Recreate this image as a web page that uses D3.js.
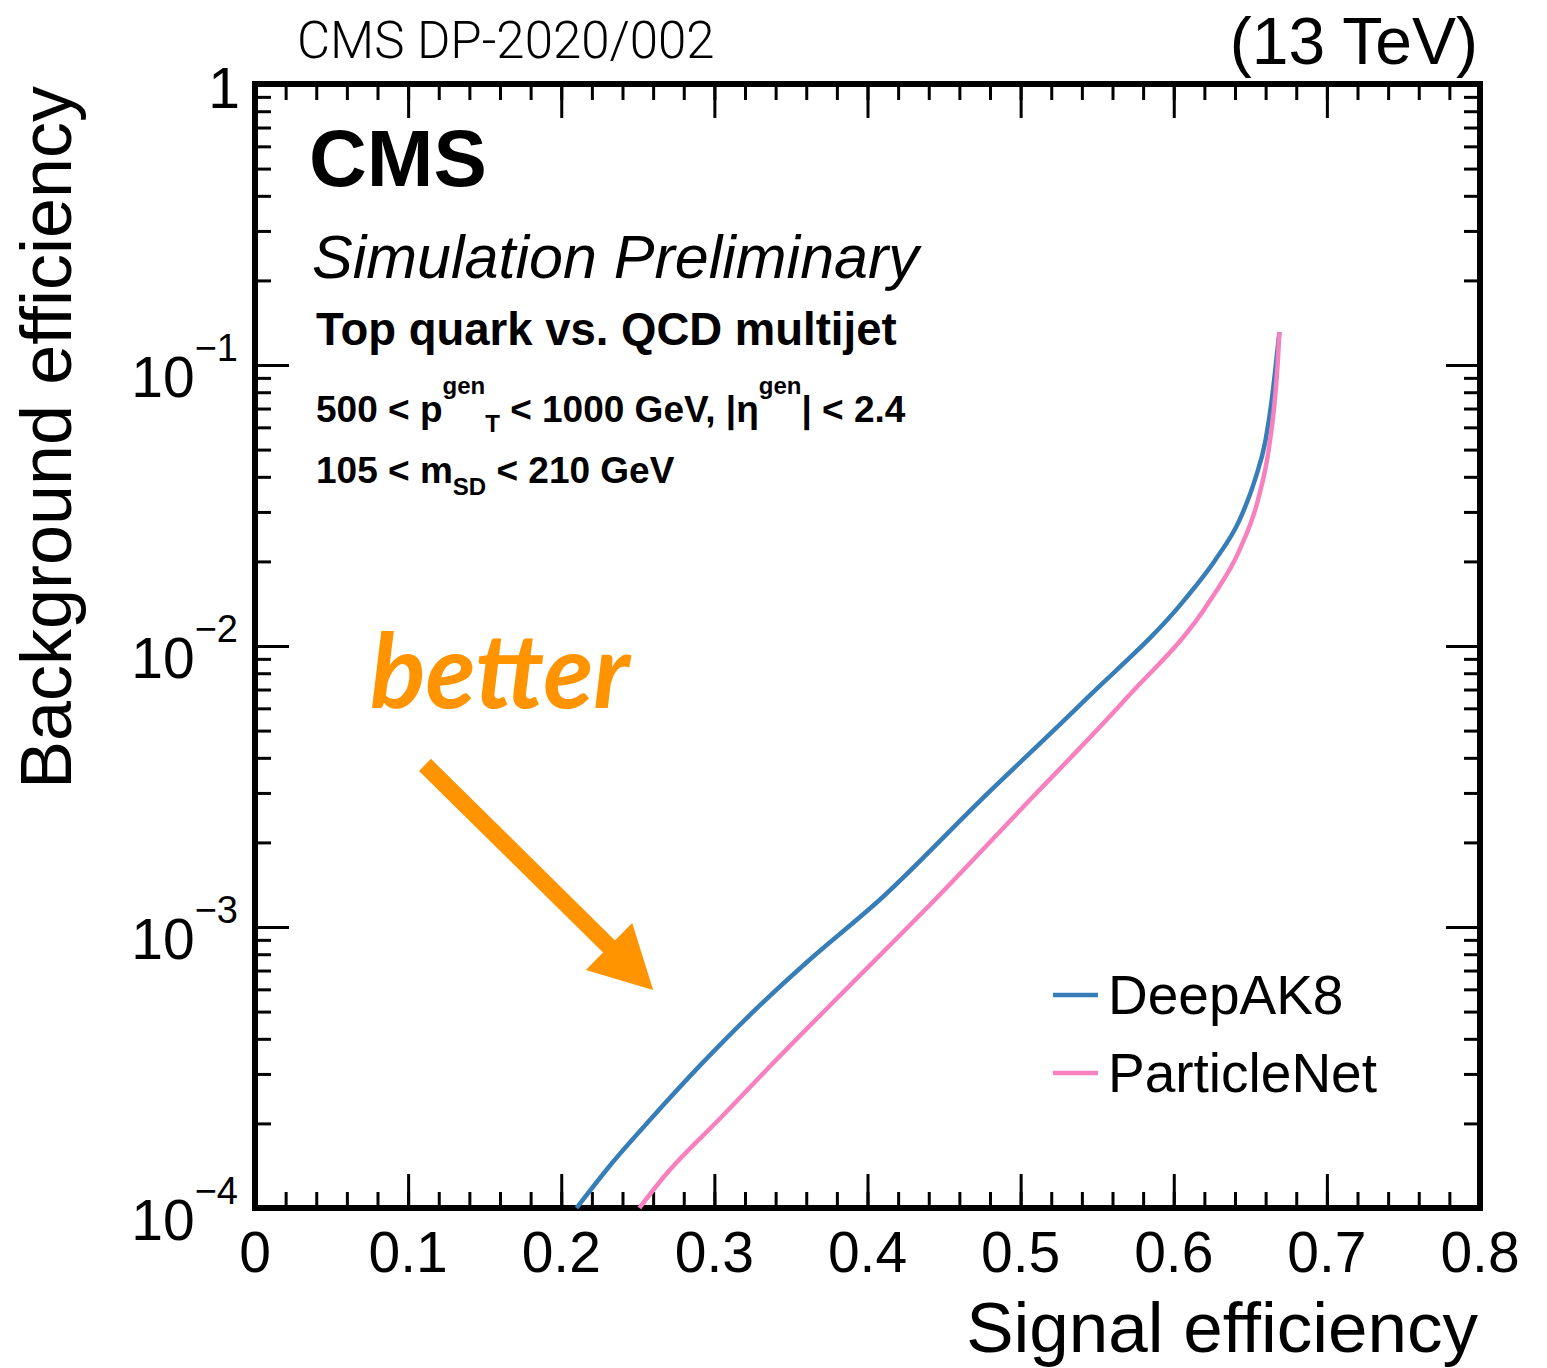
<!DOCTYPE html>
<html>
<head>
<meta charset="utf-8">
<script src="https://cdn.jsdelivr.net/npm/d3@7"></script>
<style>
  html, body { margin: 0; padding: 0; background: #fff; }
  svg { display: block; }
</style>
</head>
<body>
<svg id="chart" width="1547" height="1368"></svg>
<script>
// ROC curves: signal efficiency vs background efficiency
const seriesNames = ["DeepAK8", "ParticleNet"];
const seriesColors = ["#377eb8", "#f781bf"];

const sigEffDeepAK8 = [0.210, 0.232, 0.258, 0.291, 0.330, 0.362, 0.408, 0.474, 0.542, 0.607,
  0.627, 0.643, 0.653, 0.660, 0.664, 0.667, 0.669];
const bkgEffDeepAK8 = [1.00e-4, 1.42e-4, 2.06e-4, 3.23e-4, 5.28e-4, 7.63e-4, 1.25e-3, 2.83e-3, 6.42e-3, 1.46e-2,
  2.02e-2, 2.81e-2, 3.90e-2, 5.41e-2, 7.50e-2, 0.104, 0.131];

const sigEffParticleNet = [0.251, 0.268, 0.304, 0.336, 0.379, 0.444, 0.506, 0.568, 0.624, 0.643,
  0.655, 0.662, 0.666, 0.668, 0.669];
const bkgEffParticleNet = [1.00e-4, 1.31e-4, 2.09e-4, 3.18e-4, 5.50e-4, 1.25e-3, 2.83e-3, 6.42e-3, 1.46e-2, 2.20e-2,
  3.31e-2, 4.99e-2, 7.50e-2, 0.104, 0.131];

// axis ticks and labels
const xMajorTicks = [0, 0.1, 0.2, 0.3, 0.4, 0.5, 0.6, 0.7, 0.8];
const xTickLabels = ["0", "0.1", "0.2", "0.3", "0.4", "0.5", "0.6", "0.7", "0.8"];
const yMajorTicks = [1, 1e-1, 1e-2, 1e-3, 1e-4];
const yTickBases = ["1", "10", "10", "10", "10"];
const yTickExponents = ["", "\u22121", "\u22122", "\u22123", "\u22124"];

const svg = d3.select("#chart");
const FONT = "'Liberation Sans', Arial, Helvetica, sans-serif";

const plot = { left: 255, right: 1480, top: 84, bottom: 1208 };
const x = d3.scaleLinear().domain([0, 0.8]).range([plot.left, plot.right]);
const y = d3.scaleLog().domain([1e-4, 1]).range([plot.bottom, plot.top]);

// minor ticks
const xMinorTicks = d3.range(0, 41).map(i => i * 0.02);
const yMinorTicks = [];
[-4, -3, -2, -1].forEach(d => { for (let k = 2; k <= 9; k++) yMinorTicks.push(k * Math.pow(10, d)); });

const MAJ = 34, MIN = 16;
function styleAxis(g) {
  g.select(".domain").remove();
  g.selectAll(".tick line").attr("stroke", "#000").attr("stroke-width", 3);
}
const axes = svg.append("g");
[[d3.axisBottom, plot.bottom], [d3.axisTop, plot.top]].forEach(([gen, pos]) => {
  axes.append("g").attr("transform", `translate(0,${pos})`)
    .call(gen(x).tickValues(xMinorTicks).tickSize(-MIN).tickFormat("")).call(styleAxis);
  axes.append("g").attr("transform", `translate(0,${pos})`)
    .call(gen(x).tickValues(xMajorTicks).tickSize(-MAJ).tickFormat("")).call(styleAxis);
});
[[d3.axisLeft, plot.left], [d3.axisRight, plot.right]].forEach(([gen, pos]) => {
  axes.append("g").attr("transform", `translate(${pos},0)`)
    .call(gen(y).tickValues(yMinorTicks).tickSize(-MIN).tickFormat("")).call(styleAxis);
  axes.append("g").attr("transform", `translate(${pos},0)`)
    .call(gen(y).tickValues(yMajorTicks).tickSize(-MAJ).tickFormat("")).call(styleAxis);
});

// frame
svg.append("rect")
  .attr("x", plot.left).attr("y", plot.top)
  .attr("width", plot.right - plot.left).attr("height", plot.bottom - plot.top)
  .attr("fill", "none").attr("stroke", "#000").attr("stroke-width", 6);

// x tick labels
svg.append("g").selectAll("text").data(xMajorTicks).join("text")
  .attr("x", d => x(d)).attr("y", 1272)
  .attr("text-anchor", "middle")
  .attr("font-family", FONT).attr("font-size", 57)
  .text((d, i) => xTickLabels[i]);

// y tick labels (powers of ten)
const yLab = svg.append("g").selectAll("text").data(yMajorTicks).join("text")
  .attr("x", (d, i) => i === 0 ? 240 : 238)
  .attr("y", (d, i) => i === 0 ? y(d) + 24 : y(d) + 32)
  .attr("text-anchor", "end")
  .attr("font-family", FONT).attr("font-size", 57);
yLab.append("tspan").text((d, i) => yTickBases[i]);
yLab.append("tspan").attr("font-size", 38).attr("dy", -36)
  .text((d, i) => yTickExponents[i]);

// axis titles
svg.append("text")
  .attr("x", 1478).attr("y", 1352).attr("text-anchor", "end")
  .attr("font-family", FONT).attr("font-size", 71)
  .text("Signal efficiency");
svg.append("text")
  .attr("transform", "translate(71,86) rotate(-90)").attr("text-anchor", "end")
  .attr("font-family", FONT).attr("font-size", 72)
  .text("Background efficiency");

// header
svg.append("text")
  .attr("x", 297).attr("y", 58)
  .attr("font-family", "Roboto, 'Liberation Sans', sans-serif").attr("font-weight", 300)
  .attr("font-size", 51)
  .text("CMS DP-2020/002");
svg.append("text")
  .attr("x", 1478).attr("y", 64).attr("text-anchor", "end")
  .attr("font-family", FONT).attr("font-size", 66)
  .text("(13 TeV)");

// in-frame labels
svg.append("text").attr("x", 309).attr("y", 186)
  .attr("font-family", FONT).attr("font-weight", "bold").attr("font-size", 80).text("CMS");
svg.append("text").attr("x", 312).attr("y", 278)
  .attr("font-family", FONT).attr("font-style", "italic").attr("font-size", 61)
  .text("Simulation Preliminary");
svg.append("text").attr("x", 316).attr("y", 345)
  .attr("font-family", FONT).attr("font-weight", "bold").attr("font-size", 45.5)
  .text("Top quark vs. QCD multijet");

// text with stacked super/subscripts, laid out piece by piece
function richLine(x0, y0, parts) {
  const g = svg.append("g").attr("font-family", FONT).attr("font-weight", "bold");
  let cx = x0, anchorX = x0;
  parts.forEach(p => {
    const px = p.stack ? anchorX : cx;
    const t = g.append("text").attr("x", px).attr("y", y0 + (p.dy || 0))
      .attr("font-size", p.size).attr("xml:space", "preserve").text(p.t);
    const w = t.node().getComputedTextLength();
    if (p.stack) { cx = Math.max(cx, px + w); }
    else { anchorX = px + w; cx = px + w; }
  });
}
richLine(316, 422, [
  { t: "500 < p", size: 37 },
  { t: "gen", size: 24, dy: -28 },
  { t: "T", size: 24, dy: 10, stack: true },
  { t: " < 1000 GeV, |\u03b7", size: 37 },
  { t: "gen", size: 24, dy: -28 },
  { t: "| < 2.4", size: 37 }
]);
richLine(316, 483, [
  { t: "105 < m", size: 37 },
  { t: "SD", size: 24, dy: 12 },
  { t: " < 210 GeV", size: 37 }
]);

// ROC curves
const line = d3.line().x(d => x(d[0])).y(d => y(d[1])).curve(d3.curveMonotoneX);
const curves = [
  d3.zip(sigEffDeepAK8, bkgEffDeepAK8),
  d3.zip(sigEffParticleNet, bkgEffParticleNet)
];
svg.append("g").selectAll("path").data(curves).join("path")
  .attr("d", line)
  .attr("fill", "none")
  .attr("stroke", (d, i) => seriesColors[i])
  .attr("stroke-width", 4.5)
  .attr("stroke-linejoin", "round");

// legend
const leg = svg.append("g").selectAll("g").data(seriesNames).join("g")
  .attr("transform", (d, i) => `translate(1053,${995 + i * 78})`);
leg.append("line").attr("x1", 0).attr("x2", 45).attr("y1", 0).attr("y2", 0)
  .attr("stroke", (d, i) => seriesColors[i]).attr("stroke-width", 4.5);
leg.append("text").attr("x", 55).attr("y", 19)
  .attr("font-family", FONT).attr("font-size", 55).text(d => d);

// "better" annotation with arrow (placed in data coordinates)
const ORANGE = "#ff9300";
svg.append("text").attr("x", 370).attr("y", 708)
  .attr("font-family", "Lato, 'Open Sans', sans-serif").attr("font-weight", "bold")
  .attr("font-style", "italic").attr("font-size", 103).attr("fill", ORANGE)
  .text("better");

const arrowFrom = [0.111, Math.pow(10, -2.423)];
const arrowTo = [0.260, Math.pow(10, -3.224)];
const ax0 = x(arrowFrom[0]), ay0 = y(arrowFrom[1]);
const ax1 = x(arrowTo[0]), ay1 = y(arrowTo[1]);
const len = Math.hypot(ax1 - ax0, ay1 - ay0);
const ux = (ax1 - ax0) / len, uy = (ay1 - ay0) / len;
const headLen = 62, headHalf = 33;
const bx = ax1 - headLen * ux, by = ay1 - headLen * uy;
svg.append("line")
  .attr("x1", ax0).attr("y1", ay0).attr("x2", bx + 4 * ux).attr("y2", by + 4 * uy)
  .attr("stroke", ORANGE).attr("stroke-width", 17);
svg.append("path")
  .attr("d", `M${ax1},${ay1} L${bx - headHalf * uy},${by + headHalf * ux} L${bx + headHalf * uy},${by - headHalf * ux} Z`)
  .attr("fill", ORANGE);
</script>
</body>
</html>
